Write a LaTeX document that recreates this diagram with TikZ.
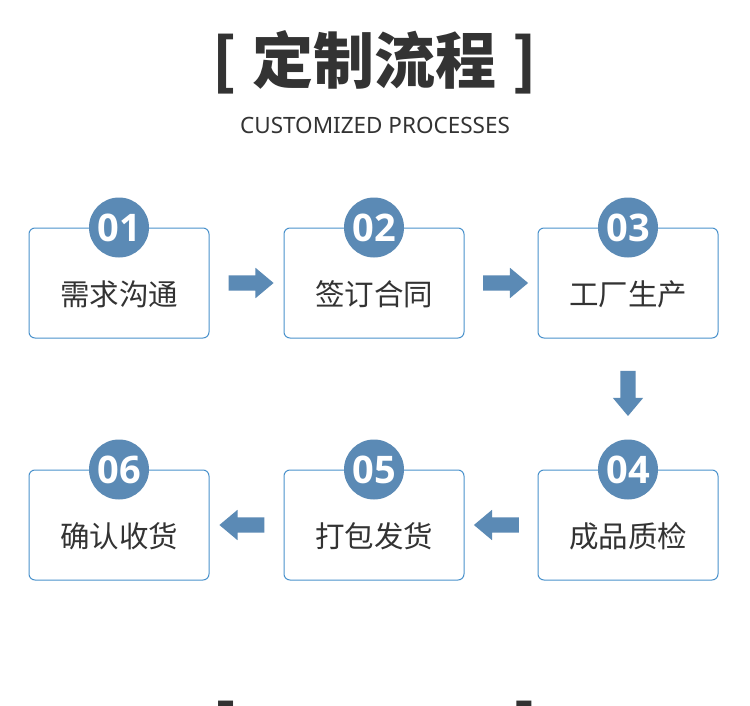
\documentclass[tikz,border=0pt]{standalone}
\usepackage{fontspec}
\setmainfont{Noto Sans}
\newfontfamily\numfont{Open Sans}
\newfontfamily\cjk{Noto Sans CJK SC}
\usetikzlibrary{calc,shapes.arrows}
\definecolor{stepblue}{HTML}{5B8AB5}
\definecolor{lineblue}{HTML}{4A92CC}
\definecolor{inkgray}{HTML}{333333}
\tikzset{
  stepbox/.style={draw=lineblue, line width=1pt, rounded corners=6pt,
    minimum width=180pt, minimum height=110pt, fill=white},
  numdot/.style={circle, fill=stepblue, minimum size=60pt, inner sep=0pt,
    text=white, font=\numfont\bfseries\fontsize{38}{38}\selectfont},
  steptext/.style={text=inkgray, font=\cjk\fontsize{29.5}{30}\selectfont},
  titletext/.style={text=inkgray, font=\cjk\bfseries\fontsize{61}{61}\selectfont},
  blockarrow/.style={single arrow, fill=stepblue, inner sep=7.5pt,
    single arrow head extend=7.5pt, single arrow tip angle=80,
    minimum height=45pt}
}
\begin{document}
\begin{tikzpicture}[x=1pt,y=-1pt]
\useasboundingbox (0,0) rectangle (750,706);
\clip (0,0) rectangle (750,706);
\fill[white] (0,0) rectangle (750,706);
% heading
\node[titletext] (title) at (375,62) {[\hspace{16pt}定制流程\hspace{16pt}]};
\node[text=inkgray, font=\fontsize{22.5}{23}\selectfont] (subtitle) at (375,125) {CUSTOMIZED PROCESSES};
% steps
\node[stepbox] (b1) at (119,283) {};
\node[stepbox] (b2) at (374,283) {};
\node[stepbox] (b3) at (628,283) {};
\node[stepbox] (b4) at (628,525) {};
\node[stepbox] (b5) at (374,525) {};
\node[stepbox] (b6) at (119,525) {};
\foreach \i/\txt in {1/需求沟通, 2/签订合同, 3/工厂生产, 4/成品质检, 5/打包发货, 6/确认收货} {
  \node[numdot] (n\i) at (b\i.north) {0\i};
  \node[steptext] (t\i) at ([yshift=-11pt]b\i.center) {\txt};
}
% arrows
\node[blockarrow] (a12) at ($(b1.east)!0.5!(b2.west)$) {};
\node[blockarrow] (a23) at ($(b2.east)!0.5!(b3.west)$) {};
\node[blockarrow, rotate=-90] (a34) at ($(b3.south)!0.5!(n4.north)$) {};
\node[blockarrow, rotate=180] (a45) at ($(b4.west)!0.5!(b5.east)$) {};
\node[blockarrow, rotate=180] (a56) at ($(b5.west)!0.5!(b6.east)$) {};
% next heading, cut off
\node[titletext] (nexttitle) at (375,729) {[\hspace{16pt}\phantom{定制流程}\hspace{16pt}]};
\end{tikzpicture}
\end{document}
